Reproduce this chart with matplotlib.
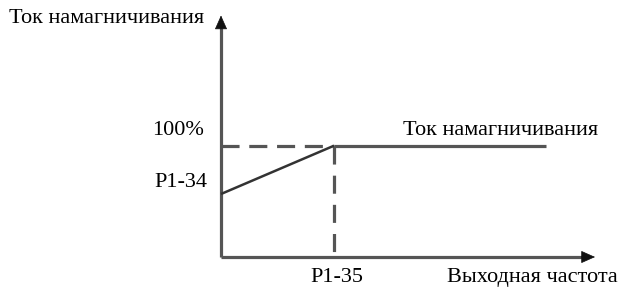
import matplotlib
matplotlib.use("Agg")
import matplotlib.pyplot as plt

# ---- data (normalised units: P1-35 frequency = 1, rated current = 1) ----
freq = [0.0, 1.0, 2.88]          # output frequency breakpoints
current = [0.566, 1.0, 1.0]      # magnetising current
y_axis_label = "Ток намагничивания"
x_axis_label = "Выходная частота"
curve_label = "Ток намагничивания"
y_tick_labels = ["P1-34", "100%"]
x_tick_labels = ["P1-35"]
x_axis_end = 3.31
y_axis_end = 2.17

plt.rcParams['font.family'] = ['Liberation Serif', 'DejaVu Serif']
plt.rcParams['lines.scale_dashes'] = False

fig = plt.figure(figsize=(6.34, 2.91), dpi=100)
ax = fig.add_axes([0, 0, 1, 1])
ax.set_xlim(-221 / 113.0, (634 - 221) / 113.0)
ax.set_ylim(-34 / 111.3, 257 / 111.3)
ax.axis('off')

axis_col = '#555555'
fs = 16

# axes lines
ax.plot([0, x_axis_end - 0.08], [0, 0], color=axis_col, lw=2.3, solid_capstyle='butt')
ax.plot([0, 0], [0, y_axis_end - 0.09], color=axis_col, lw=2.3, solid_capstyle='butt')
# arrow heads
ax.annotate('', xy=(x_axis_end, 0), xytext=(x_axis_end - 0.12, 0),
            arrowprops=dict(arrowstyle='-|>,head_length=0.45,head_width=0.2',
                            color='#111111', lw=0.5, mutation_scale=20, shrinkA=0, shrinkB=0))
ax.annotate('', xy=(0, y_axis_end), xytext=(0, y_axis_end - 0.12),
            arrowprops=dict(arrowstyle='-|>,head_length=0.45,head_width=0.2',
                            color='#111111', lw=0.5, mutation_scale=20, shrinkA=0, shrinkB=0))

# dashed guides
ax.plot([0, freq[1]], [current[1], current[1]], color=axis_col, lw=2.3,
        linestyle=(0, (13, 7)), dash_capstyle='butt')
ax.plot([freq[1], freq[1]], [current[1], 0.04], color=axis_col, lw=2.3,
        linestyle=(0, (13, 8)), dash_capstyle='butt')

# curve
ax.plot(freq[:2], current[:2], color='#333333', lw=1.8, solid_capstyle='butt')
ax.plot(freq[1:], current[1:], color=axis_col, lw=2.3, solid_capstyle='butt')

# texts
ax.text(-1.876, 2.147, y_axis_label, fontsize=fs, ha='left', va='center', color='black')
ax.text(-0.150, 1.141, y_tick_labels[1], fontsize=fs, ha='right', va='center')
ax.text(-0.124, 0.665, y_tick_labels[0], fontsize=fs, ha='right', va='center')
ax.text(1.027, -0.18, x_tick_labels[0], fontsize=fs, ha='center', va='center')
ax.text(3.513, -0.18, x_axis_label, fontsize=fs, ha='right', va='center')
ax.text(2.478, 1.141, curve_label, fontsize=fs, ha='center', va='center')

fig.savefig('out.png', dpi=100)
